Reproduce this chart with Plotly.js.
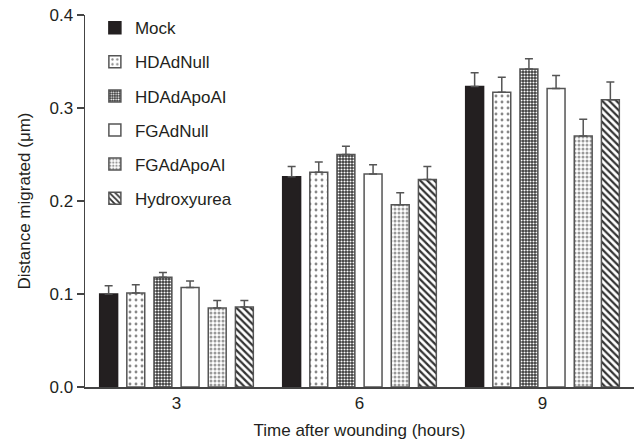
<!DOCTYPE html>
<html>
<head>
<meta charset="utf-8">
<script src="https://cdn.plot.ly/plotly-3.0.1.min.js"></script>
<style>html,body{margin:0;padding:0;background:#fff;}#chart{width:641px;height:443px;}</style>
</head>
<body>
<div id="chart"></div>
<script>
const timepoints = ["3", "6", "9"];
const seriesNames = ["Mock", "HDAdNull", "HDAdApoAI", "FGAdNull", "FGAdApoAI", "Hydroxyurea"];
const mock = [0.100, 0.226, 0.323];
const hdAdNull = [0.101, 0.231, 0.317];
const hdAdApoAI = [0.118, 0.250, 0.342];
const fgAdNull = [0.107, 0.229, 0.321];
const fgAdApoAI = [0.085, 0.196, 0.270];
const hydroxyurea = [0.086, 0.223, 0.309];
const mockErr = [0.009, 0.011, 0.015];
const hdAdNullErr = [0.009, 0.011, 0.016];
const hdAdApoAIErr = [0.005, 0.009, 0.011];
const fgAdNullErr = [0.007, 0.010, 0.014];
const fgAdApoAIErr = [0.008, 0.013, 0.018];
const hydroxyureaErr = [0.007, 0.014, 0.019];
const yTicks = [0, 0.1, 0.2, 0.3, 0.4];

const values = [mock, hdAdNull, hdAdApoAI, fgAdNull, fgAdApoAI, hydroxyurea];
const errs = [mockErr, hdAdNullErr, hdAdApoAIErr, fgAdNullErr, fgAdApoAIErr, hydroxyureaErr];
const ink = "#231f20";
const edge = "#555555";
const markers = [
  {color: ink, line: {color: ink, width: 1.5}},
  {color: "#ffffff", line: {color: edge, width: 1.5}, pattern: {shape: ".", fgcolor: "#888888", bgcolor: "#ffffff", size: 6, solidity: 0.18}},
  {color: "#ffffff", line: {color: edge, width: 1.5}, pattern: {shape: ".", fgcolor: "#ffffff", bgcolor: "#3a3a3a", size: 3, solidity: 0.4}},
  {color: "#ffffff", line: {color: edge, width: 1.5}},
  {color: "#ffffff", line: {color: edge, width: 1.5}, pattern: {shape: ".", fgcolor: "#9a9a9a", bgcolor: "#ffffff", size: 4, solidity: 0.45}},
  {color: "#ffffff", line: {color: edge, width: 1.5}, pattern: {shape: "\\", fgcolor: "#333333", bgcolor: "#ffffff", size: 5, solidity: 0.45}}
];

const traces = seriesNames.map((name, i) => ({
  type: "bar",
  name: name,
  x: timepoints,
  y: values[i],
  legendgroup: "g" + i,
  marker: markers[i],
  error_y: {type: "data", array: errs[i], arrayminus: errs[i].map(() => 0), symmetric: false, color: edge, thickness: 1.5, width: 4}
}));

const layout = {
  width: 641, height: 443,
  margin: {l: 85, r: 7, t: 15, b: 56},
  paper_bgcolor: "#ffffff", plot_bgcolor: "#ffffff",
  font: {family: "Liberation Sans, Arial, sans-serif", size: 17, color: ink},
  barmode: "group",
  bargap: 0.11,
  bargroupgap: 0.34,
  showlegend: true,
  legend: {x: 0.018, y: 1.013, xanchor: "left", yanchor: "top", bgcolor: "rgba(0,0,0,0)", tracegroupgap: 9, traceorder: "grouped", font: {size: 17, color: ink}},
  xaxis: {
    type: "category",
    range: [-0.5, 2.5],
    showline: true, linecolor: "#444444", linewidth: 1.5,
    ticks: "", showgrid: false, zeroline: false,
    tickfont: {size: 17, color: ink},
    title: {text: "Time after wounding (hours)", font: {size: 17, color: ink}, standoff: 12}
  },
  yaxis: {
    range: [0, 0.4],
    tickvals: yTicks, tickformat: ".1f",
    showline: true, linecolor: "#444444", linewidth: 1.5,
    ticks: "outside", ticklen: 7, tickwidth: 1.5, tickcolor: "#444444",
    showgrid: false, zeroline: false,
    tickfont: {size: 17, color: ink},
    title: {text: "Distance migrated (μm)", font: {size: 17, color: ink}, standoff: 14}
  }
};

Plotly.newPlot("chart", traces, layout, {displayModeBar: false, staticPlot: true});
</script>
</body>
</html>
